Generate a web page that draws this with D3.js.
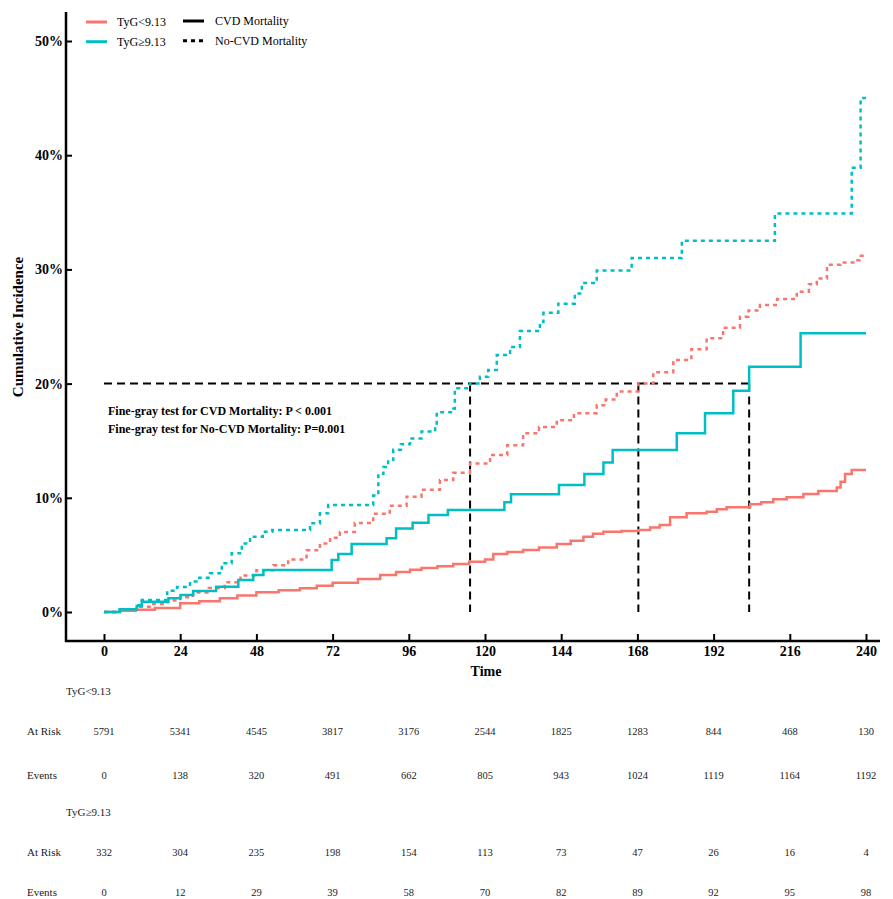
<!DOCTYPE html>
<html><head><meta charset="utf-8">
<script src="https://cdn.jsdelivr.net/npm/d3@7"></script>
<style>body{margin:0;background:#fff}svg{display:block}text{font-family:"Liberation Serif","Times New Roman",serif}</style>
</head><body><svg id="c" width="893" height="899"></svg>
<script>
// ---- data ----
const groups = ["TyG<9.13", "TyG≥9.13"];
const outcomes = ["CVD Mortality", "No-CVD Mortality"];
const timeTicks = [0,24,48,72,96,120,144,168,192,216,240];
const pctTicks = [0,10,20,30,40,50];
// [time, cumulative incidence %]
const lowCVD = [[0,0],[5,0.1],[10,0.2],[16,0.35],[24,0.76],[30,0.95],[36.5,1.2],[42,1.45],[48,1.72],[55,1.9],[61.7,2.07],[67,2.3],[72,2.57],[80,2.9],[87,3.24],[92,3.5],[96.4,3.7],[100,3.85],[105,4.0],[110,4.2],[115,4.4],[120,4.6],[122.6,5.08],[127,5.25],[132,5.43],[137,5.65],[142.6,5.95],[147,6.25],[151,6.6],[154,6.85],[157.3,7.03],[163,7.1],[168.3,7.18],[172,7.4],[175,7.62],[178.3,8.29],[183.5,8.64],[189.8,8.78],[193,9.0],[196.1,9.17],[203.5,9.43],[207,9.6],[210.8,9.87],[215,10.05],[220.3,10.33],[225,10.6],[230.8,10.9],[232,11.4],[233.4,12.08],[235.5,12.43],[240,12.43]];
const lowNonCVD = [[0,0],[5,0.2],[10,0.45],[15,0.7],[20,1.0],[24,1.3],[28,1.7],[33,2.1],[38,2.6],[43,3.2],[48,3.65],[53.3,4.1],[58,4.6],[63.8,5.4],[68,6.0],[71.2,6.5],[74.3,7.0],[79,7.8],[84.8,8.6],[90,9.3],[95.3,10.1],[100,10.7],[105.8,11.56],[110,12.2],[115.3,13.0],[121.6,13.75],[127,14.6],[132,15.65],[137,16.2],[142.6,16.8],[148,17.4],[155.2,18.1],[158,18.6],[161.5,19.3],[168.3,20.0],[173,21.0],[179.3,22.07],[185,23.0],[189.8,23.97],[195,24.9],[200.3,25.86],[203,26.4],[206.6,26.88],[212,27.4],[218.2,28.05],[222,28.7],[224.5,29.2],[227.7,30.4],[232,30.6],[236,30.8],[238,31.2],[240,31.26]];
const highCVD = [[0,0],[5,0.25],[10.3,0.53],[11.9,0.9],[20.3,1.2],[24.1,1.49],[28.1,1.84],[35.3,2.22],[42.3,2.8],[47,3.24],[50.2,3.68],[71.7,4.55],[73.8,5.08],[78,5.95],[89,6.45],[92,7.32],[97.2,7.82],[102.2,8.49],[108.3,8.93],[126.1,9.6],[128.2,10.3],[143.3,11.12],[151.3,12.08],[157.3,13.1],[160.2,14.19],[180.4,15.65],[189.3,17.4],[198.2,19.38],[203.2,21.48],[219.4,24.4],[240,24.4]];
const highNonCVD = [[0,0],[5,0.25],[10.3,0.6],[11.9,1.05],[19.9,1.87],[23,2.2],[27.1,2.66],[30,3.0],[33.4,3.39],[37.1,4.26],[40.2,5.14],[43.4,6.0],[46,6.6],[50,7.03],[53,7.18],[64.9,7.77],[68,8.64],[70.6,9.37],[84.8,10.2],[86.4,12.1],[88,12.7],[89.5,13.3],[91.1,14.2],[93.5,14.7],[96.4,15.2],[100,15.8],[104.3,16.2],[104.8,17.5],[110,17.8],[110.5,19.6],[115.3,20.0],[118.4,20.6],[121,21.2],[123.7,22.5],[127.9,23.2],[131,24.6],[137.3,25.4],[138.4,26.2],[143.1,27.0],[148.3,27.9],[150.5,28.8],[155.2,29.9],[166.2,31.0],[182,32.5],[211.3,34.9],[235.5,38.9],[238.3,45.0],[240,45.0]];
// 20% reference: time at which each curve reaches 20%
const refLevel = 20;
const refTimes = [115.3, 168.3, 203.2];
const pTexts = ["Fine-gray test for CVD Mortality: P < 0.001", "Fine-gray test for No-CVD Mortality: P=0.001"];
const lowAtRisk = [5791,5341,4545,3817,3176,2544,1825,1283,844,468,130];
const lowEvents = [0,138,320,491,662,805,943,1024,1119,1164,1192];
const highAtRisk = [332,304,235,198,154,113,73,47,26,16,4];
const highEvents = [0,12,29,39,58,70,82,89,92,95,98];

// ---- drawing ----
const colors = {[groups[0]]:"#F8766D", [groups[1]]:"#00BFC4"};
const svg = d3.select("#c");
svg.append("rect").attr("width",893).attr("height",899).attr("fill","#fff");
const x = d3.scaleLinear().domain([0,240]).range([104,866]);
const y = d3.scaleLinear().domain([0,50]).range([612,41]);

// axes lines
svg.append("line").attr("x1",66).attr("x2",66).attr("y1",12).attr("y2",642).attr("stroke","#000").attr("stroke-width",2.5);
svg.append("line").attr("x1",65).attr("x2",880).attr("y1",641).attr("y2",641).attr("stroke","#000").attr("stroke-width",2.5);

const yAxis = svg.append("g").attr("transform","translate(66,0)")
  .call(d3.axisLeft(y).tickValues(pctTicks).tickFormat(d=>d+"%").tickSizeInner(-6).tickSizeOuter(0).tickPadding(3));
yAxis.select(".domain").remove();
yAxis.selectAll("line").attr("stroke","#000").attr("stroke-width",2);
yAxis.selectAll("text").attr("font-size",14).attr("font-weight","bold").attr("fill","#000").attr("font-family","Liberation Serif");

const xAxis = svg.append("g").attr("transform","translate(0,641)")
  .call(d3.axisBottom(x).tickValues(timeTicks).tickSizeInner(-7).tickSizeOuter(0).tickPadding(5));
xAxis.select(".domain").remove();
xAxis.selectAll("line").attr("stroke","#000").attr("stroke-width",2);
xAxis.selectAll("text").attr("font-size",14).attr("font-weight","bold").attr("fill","#000").attr("font-family","Liberation Serif");

svg.append("text").attr("x",486).attr("y",676).attr("text-anchor","middle").attr("font-size",14).attr("font-weight","bold").text("Time");
svg.append("text").attr("transform","translate(23,327) rotate(-90)").attr("text-anchor","middle").attr("font-size",15).attr("font-weight","bold").text("Cumulative Incidence");

// reference lines
svg.append("line").attr("x1",x(0)).attr("x2",x(d3.max(refTimes))).attr("y1",y(refLevel)).attr("y2",y(refLevel))
  .attr("stroke","#000").attr("stroke-width",2).attr("stroke-dasharray","8,5");
refTimes.forEach(t=>{
  svg.append("line").attr("x1",x(t)).attr("x2",x(t)).attr("y1",y(refLevel)).attr("y2",y(0))
    .attr("stroke","#000").attr("stroke-width",2).attr("stroke-dasharray","8,5");
});

// curves
const line = d3.line().x(d=>x(d[0])).y(d=>y(d[1])).curve(d3.curveStepAfter);
const series = [
  {data:lowCVD, g:groups[0], dash:null},
  {data:lowNonCVD, g:groups[0], dash:"4,4"},
  {data:highCVD, g:groups[1], dash:null},
  {data:highNonCVD, g:groups[1], dash:"4,4"}
];
series.forEach(s=>{
  svg.append("path").attr("d",line(s.data)).attr("fill","none").attr("stroke",colors[s.g])
    .attr("stroke-width",2.5).attr("stroke-dasharray",s.dash);
});

// p-value texts
pTexts.forEach((t,i)=>{
  svg.append("text").attr("x",108).attr("y",415+i*18).attr("font-size",12).attr("font-weight","bold").text(t);
});

// legend
groups.forEach((g,i)=>{
  const yy = 22 + i*19.7;
  svg.append("line").attr("x1",86).attr("x2",107).attr("y1",yy).attr("y2",yy).attr("stroke",colors[g]).attr("stroke-width",3);
  svg.append("text").attr("x",117).attr("y",yy+4).attr("font-size",12).text(g);
});
outcomes.forEach((o,i)=>{
  const yy = 21 + i*19.7;
  svg.append("line").attr("x1",183).attr("x2",204).attr("y1",yy).attr("y2",yy).attr("stroke","#000").attr("stroke-width",3)
    .attr("stroke-dasharray", i ? "4,4" : null);
  svg.append("text").attr("x",215).attr("y",yy+4).attr("font-size",12).text(o);
});

// risk table
const tbl = [
  {label:groups[0], y:695, header:true},
  {label:"At Risk", y:735, vals:lowAtRisk},
  {label:"Events", y:779, vals:lowEvents},
  {label:groups[1], y:816, header:true},
  {label:"At Risk", y:856, vals:highAtRisk},
  {label:"Events", y:896, vals:highEvents}
];
tbl.forEach(r=>{
  if(r.header){
    svg.append("text").attr("x",66).attr("y",r.y).attr("font-size",11).attr("fill","#222").text(r.label);
  } else {
    svg.append("text").attr("x",27).attr("y",r.y).attr("font-size",11).attr("fill","#222").text(r.label);
    svg.selectAll(null).data(r.vals).enter().append("text")
      .attr("x",(d,i)=>x(timeTicks[i])).attr("y",r.y).attr("text-anchor","middle").attr("font-size",10.5).attr("fill","#222").text(d=>d);
  }
});
</script></body></html>
